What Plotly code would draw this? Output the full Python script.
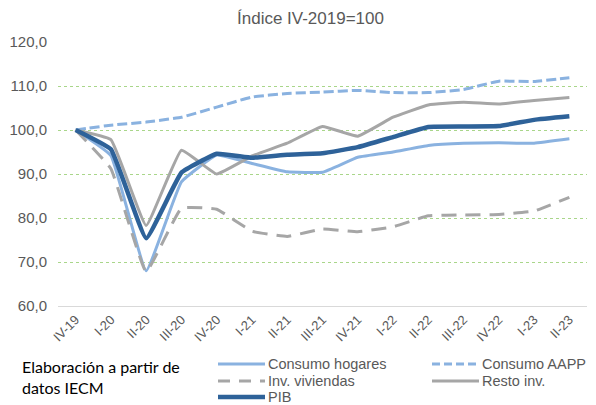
import plotly.graph_objects as go

quarters = ["IV-19", "I-20", "II-20", "III-20", "IV-20", "I-21", "II-21", "III-21",
            "IV-21", "I-22", "II-22", "III-22", "IV-22", "I-23", "II-23"]
consumo_hogares = [100.0, 94.2, 68.0, 88.2, 94.3, 92.4, 90.5, 90.4, 93.8, 95.0, 96.5, 97.0, 97.1, 97.0, 98.0]
consumo_aapp = [100.0, 101.1, 101.8, 102.9, 105.2, 107.5, 108.3, 108.6, 109.0, 108.5, 108.5, 109.2, 111.1, 111.0, 111.9]
inv_viviendas = [100.0, 91.2, 67.8, 82.2, 82.0, 77.0, 75.8, 77.5, 76.9, 78.0, 80.5, 80.7, 80.8, 81.6, 84.7]
resto_inv = [100.0, 97.8, 78.3, 95.4, 90.0, 94.1, 97.0, 100.8, 98.6, 102.9, 105.7, 106.3, 105.9, 106.7, 107.4]
pib = [100.0, 95.6, 75.4, 90.3, 94.6, 93.7, 94.4, 94.7, 96.1, 98.4, 100.7, 100.8, 100.9, 102.3, 103.1]

LIGHT = "#8AB2E0"
DARK = "#2E6299"
GRAY = "#A6A6A6"
TXT = "#595959"

series = [
    ("Consumo hogares", consumo_hogares, LIGHT, "solid", 3),
    ("Consumo AAPP", consumo_aapp, LIGHT, "10px,4px", 3),
    ("Inv. viviendas", inv_viviendas, GRAY, "15px,9px", 3),
    ("Resto inv.", resto_inv, GRAY, "solid", 3),
    ("PIB", pib, DARK, "solid", 4.5),
]

# plot area in pixels (for legend placement helpers)
W, H = 596, 405
L, R, T, B = 58, 9, 42, 99
PW, PH = W - L - R, H - T - B


def px_x(px):
    return (px - L) / PW


def px_y(py):
    return (H - B - py) / PH


fig = go.Figure()
for name, vals, color, dash, w in series:
    fig.add_trace(go.Scatter(
        x=quarters, y=vals, name=name, mode="lines",
        line=dict(color=color, dash=dash, width=w, shape="spline", smoothing=0.3),
    ))

# custom legend (two columns, Excel style)
legend_pos = [(218, 364), (432, 364), (218, 381), (432, 381), (218, 397)]
shapes = []
annotations = []
for (name, vals, color, dash, w), (lx, ly) in zip(series, legend_pos):
    ldash = {"10px,4px": "8px,4px", "15px,9px": "12px,9px"}.get(dash, dash)
    shapes.append(dict(type="line", xref="paper", yref="paper",
                       x0=px_x(lx), x1=px_x(lx + 47), y0=px_y(ly), y1=px_y(ly),
                       line=dict(color=color, width=w, dash=ldash)))
    annotations.append(dict(text=name, xref="paper", yref="paper",
                            x=px_x(lx + 48), y=px_y(ly), xanchor="left", yanchor="middle",
                            showarrow=False, font=dict(size=14.5, color=TXT)))

annotations.append(dict(text="Índice IV-2019=100", xref="paper", yref="paper",
                        x=px_x(310), y=px_y(18), xanchor="center", yanchor="middle",
                        showarrow=False, font=dict(size=17, color=TXT)))
annotations.append(dict(text="Elaboración a partir de<br>datos IECM", xref="paper", yref="paper",
                        x=px_x(20), y=px_y(355), xanchor="left", yanchor="top", align="left",
                        showarrow=False, font=dict(family="Lato, sans-serif", size=16, color="black")))

fig.update_layout(
    width=W, height=H,
    margin=dict(l=L, r=R, t=T, b=B),
    plot_bgcolor="white", paper_bgcolor="white",
    separators=",.",
    font=dict(family="Liberation Sans, Arial, sans-serif", color=TXT, size=14),
    showlegend=False,
    shapes=shapes,
    annotations=annotations,
)
fig.update_xaxes(
    type="category", range=[-0.5, 14.5], tickangle=-45, showgrid=False,
    showline=True, linecolor="#D9D9D9", linewidth=1, ticks="", automargin=False,
    tickfont=dict(size=13, color=TXT),
)
fig.update_yaxes(
    range=[60, 120], tickvals=[60, 70, 80, 90, 100, 110, 120], tickformat=".1f",
    showgrid=True, gridcolor="#A9D68A", griddash="dot", gridwidth=1, automargin=False,
    zeroline=False, ticks="", ticklabelstandoff=10, tickfont=dict(size=15, color=TXT),
)

fig.write_html("out.html", config={"displayModeBar": False},
               post_script="document.body.style.margin='0px';")
